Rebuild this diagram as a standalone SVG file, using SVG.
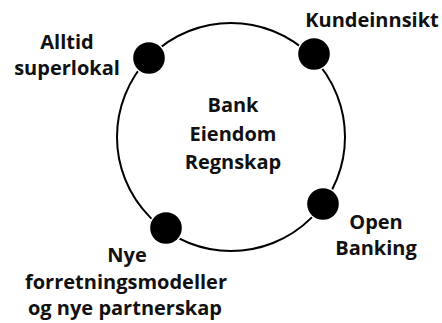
<svg xmlns="http://www.w3.org/2000/svg" width="442" height="323" viewBox="0 0 442 323">
<style>
text{font-family:"Open Sans","DejaVu Sans",sans-serif;font-weight:700;font-size:20px;fill:#111;text-anchor:middle}
.dot{fill:#000;stroke:#fff;stroke-width:3;paint-order:stroke}
.ring{fill:none;stroke:#000;stroke-width:2}
</style>
<rect width="442" height="323" fill="#fff"/>
<g id="connectors"><circle class="ring" cx="231" cy="137" r="114"/></g>
<g id="center"><text x="233" y="112">Bank</text><text x="233" y="141">Eiendom</text><text x="233" y="169">Regnskap</text></g>
<g id="alltid"><circle class="dot" cx="149" cy="58" r="15.8"/><text x="67" y="49">Alltid</text><text x="67" y="75">superlokal</text></g>
<g id="kundeinnsikt"><circle class="dot" cx="314" cy="54" r="15.8"/><text x="372" y="27">Kundeinnsikt</text></g>
<g id="openbanking"><circle class="dot" cx="323" cy="204" r="15.8"/><text x="376" y="229">Open</text><text x="376" y="255">Banking</text></g>
<g id="nye"><circle class="dot" cx="166" cy="228" r="15.8"/><text x="127" y="262">Nye</text><text x="126" y="289">forretningsmodeller</text><text x="125" y="315">og nye partnerskap</text></g>
</svg>
